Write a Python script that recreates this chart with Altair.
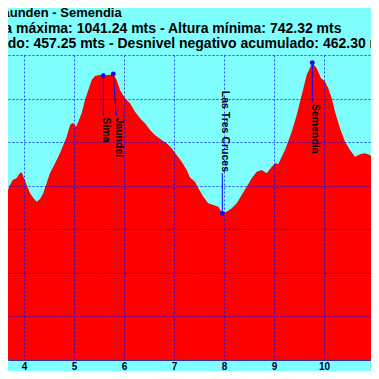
import altair as alt
import pandas as pd

# Elevation profile (km, m)
km = [3.52, 3.586, 3.654, 3.72, 3.774, 3.854, 3.92, 3.954, 4.0, 4.054, 4.12, 4.186, 4.254, 4.32,
      4.386, 4.454, 4.52, 4.586, 4.654, 4.72, 4.786, 4.854, 4.92, 4.974, 5.04, 5.086, 5.154, 5.22,
      5.286, 5.354, 5.42, 5.5, 5.586, 5.68, 5.786, 5.854, 5.92, 6.02, 6.12, 6.22, 6.32, 6.42, 6.52,
      6.62, 6.754, 6.854, 6.954, 7.054, 7.154, 7.254, 7.32, 7.42, 7.486, 7.586, 7.686, 7.786, 7.886,
      7.966, 8.054, 8.154, 8.254, 8.354, 8.454, 8.554, 8.654, 8.754, 8.854, 8.954, 9.02, 9.086,
      9.154, 9.22, 9.354, 9.454, 9.554, 9.654, 9.766, 9.854, 9.94, 9.986, 10.02, 10.086, 10.154,
      10.22, 10.32, 10.42, 10.52, 10.62, 10.72, 10.82, 10.92, 11.02, 11.1, 11.16]
elev = [875.9, 883.6, 891.6, 900.8, 906.5, 908.8, 914.6, 915.5, 908.8, 900.8, 891.6, 885.9, 881.6,
        884.7, 891.6, 903.1, 914.6, 921.8, 929.5, 937.5, 946.7, 956.2, 969.7, 972.3, 967.7, 973.5,
        983.4, 998.4, 1009.8, 1021.3, 1025.9, 1027.0, 1026.2, 1027.0, 1028.2, 1021.3, 1009.8,
        1000.3, 994.6, 984.9, 977.4, 971.6, 963.9, 958.2, 952.5, 948.7, 942.9, 935.2, 927.6, 918.0,
        909.4, 904.6, 897.0, 887.4, 879.8, 877.9, 875.9, 868.3, 870.2, 874.1, 879.8, 889.3, 898.9,
        908.5, 916.1, 918.0, 914.2, 921.8, 925.7, 924.9, 933.3, 941.0, 962.0, 981.1, 1004.1,
        1027.0, 1041.24, 1034.7, 1023.3, 1021.3, 1019.4, 1011.8, 1000.3, 984.9, 965.9, 950.5,
        941.0, 933.3, 936.0, 937.2, 935.2, 929.5, 923.8, 920.0]

# Points of interest
poi_name = ["Sima", "Jaundel", "Las Tres Cruces", "Semendia"]
poi_km = [5.586, 5.786, 7.966, 9.766]
poi_elev = [1026.2, 1028.2, 868.3, 1041.24]
label_km = [5.586, 5.846, 7.966, 9.766]
label_elev = [980.6, 980.6, 914.6, 996.1]
label_side = ["below", "below", "above", "below"]

x_ticks = [4, 5, 6, 7, 8, 9, 10, 11]
y_grid = [700, 750, 800, 850, 900, 950, 1000, 1050]

title_lines = [
    "Perfil: Jaunden - Semendia",
    "Distancia: 12.45 Km - Altura máxima: 1041.24 mts - Altura mínima: 742.32 mts",
    "Desnivel positivo acumulado: 457.25 mts - Desnivel negativo acumulado: 462.30 mts",
]

FONT = "Liberation Sans"
profile = pd.DataFrame({"km": km, "elev": elev})
poi = pd.DataFrame({"name": poi_name, "km": poi_km, "elev": poi_elev,
                    "lkm": label_km, "lelev": label_elev, "side": label_side})

xscale = alt.Scale(domain=[3.68, 10.94], nice=False, zero=False)
yscale = alt.Scale(domain=[700, 1050], nice=False, zero=False)

xaxis = alt.Axis(values=x_ticks, title=None, grid=True, gridColor="#0000ff", gridDash=[2, 2],
                 gridOpacity=0.7, ticks=False, domainColor="#3030a0", domainWidth=1,
                 labelFont=FONT, labelFontSize=10, labelFontWeight="bold", labelColor="#000033",
                 labelPadding=1, labelFlush=False, zindex=1)
yaxis = alt.Axis(values=y_grid, title=None, grid=True, gridColor="#0000ff", gridDash=[2, 2],
                 gridOpacity=0.7, ticks=False, labels=False, domain=False, zindex=1)

area = alt.Chart(profile).mark_area(color="#ff0000", clip=True, opacity=1).encode(
    x=alt.X("km:Q", scale=xscale, axis=xaxis),
    y=alt.Y("elev:Q", scale=yscale, axis=yaxis),
    y2=alt.datum(700),
)

rules = alt.Chart(poi).mark_rule(color="#0000ff", strokeWidth=1).encode(
    x=alt.X("km:Q", scale=xscale), y=alt.Y("elev:Q", scale=yscale),
    x2="lkm:Q", y2="lelev:Q")

dots = alt.Chart(poi).mark_circle(color="#1010e0", size=24, opacity=1).encode(
    x=alt.X("km:Q", scale=xscale), y=alt.Y("elev:Q", scale=yscale))

txt_below = alt.Chart(poi).transform_filter(alt.datum.side == "below").mark_text(
    angle=90, align="left", baseline="alphabetic", dx=2, font=FONT, fontSize=10.5,
    fontWeight="bold", color="#000000").encode(
    x=alt.X("lkm:Q", scale=xscale), y=alt.Y("lelev:Q", scale=yscale), text="name:N")

txt_above = alt.Chart(poi).transform_filter(alt.datum.side == "above").mark_text(
    angle=90, align="right", baseline="alphabetic", dx=-1, font=FONT, fontSize=10.5,
    fontWeight="bold", color="#000000").encode(
    x=alt.X("lkm:Q", scale=xscale), y=alt.Y("lelev:Q", scale=yscale), text="name:N")

title_x = [113.7, 333.5, 386.5]
title_y = [-37.7, -22.2, -6.6]
title_size = [13, 14, 14]
title_layers = []
for line, tx, ty, fs in zip(title_lines, title_x, title_y, title_size):
    title_layers.append(
        alt.Chart(pd.DataFrame({"t": [line]})).mark_text(
            align="right", baseline="alphabetic", font=FONT, fontSize=fs,
            fontWeight="bold", color="#000000").encode(
            x=alt.value(tx), y=alt.value(ty), text="t:N"))

chart = alt.layer(area, rules, dots, txt_below, txt_above, *title_layers).properties(
    width=363, height=305, background="#80ffff",
    padding={"left": 0, "top": 47, "right": 0, "bottom": 11},
    autosize=alt.AutoSizeParams(type="none"),
).configure_view(stroke=None)

chart.save("out.html", embed_options={"renderer": "svg", "actions": False})
